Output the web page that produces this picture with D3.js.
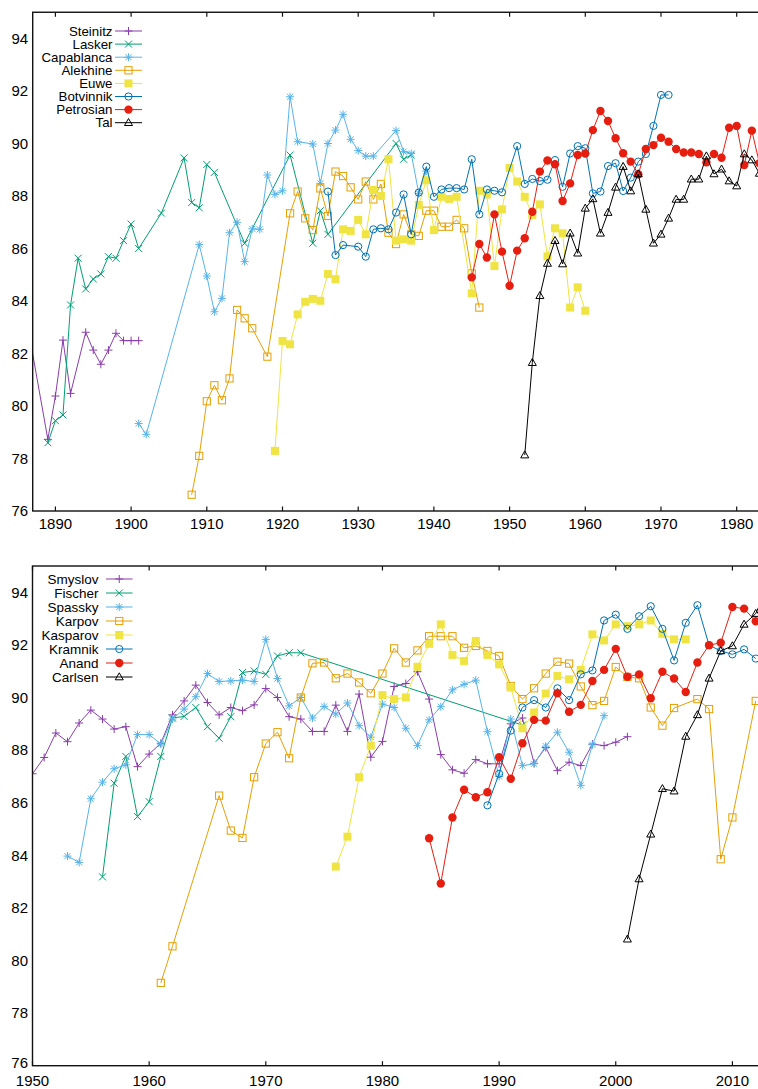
<!DOCTYPE html>
<html><head><meta charset="utf-8">
<script src="https://cdn.jsdelivr.net/npm/d3@7"></script>
<style>
body{margin:0;background:#fff}
svg{display:block}
text{font-family:"Liberation Sans",Arial,Helvetica,sans-serif;fill:#000}
</style>
</head><body>
<svg id="c" width="758" height="1089"></svg>
<script>
// ---------- DATA (year, performance) ----------
const steinitz = [[1886,83.6],[1889,78.73],[1890,80.38],[1891,82.51],[1892,80.48],[1894,82.81],[1895,82.13],[1896,81.59],[1897,82.13],[1898,82.77],[1899,82.49],[1900,82.49],[1901,82.49]];
const lasker = [[1889,78.6],[1890,79.44],[1891,79.66],[1892,83.85],[1893,85.63],[1894,84.46],[1895,84.84],[1896,85.03],[1897,85.69],[1898,85.63],[1899,86.3],[1900,86.93],[1901,86.0],[1904,87.35],[1907,89.45],[1908,87.75],[1909,87.55],[1910,89.2],[1911,88.9],[1915,86.2],[1921,89.56],[1924,86.2],[1925,87.44],[1926,86.54],[1935,90.0],[1936,89.4],[1937,89.56]];
const capablanca = [[1901,79.33],[1902,78.92],[1909,86.15],[1910,84.95],[1911,83.59],[1912,84.1],[1913,86.6],[1914,87.0],[1915,85.5],[1916,86.75],[1917,86.73],[1918,88.8],[1919,88.06],[1920,88.2],[1921,91.78],[1922,90.07],[1924,89.98],[1925,88.48],[1926,90.0],[1927,90.51],[1928,91.11],[1929,90.16],[1930,89.73],[1931,89.52],[1932,89.52],[1935,90.49],[1936,89.69],[1937,89.62],[1938,88.1],[1939,88.95]];
const alekhine = [[1908,76.62],[1909,78.1],[1910,80.18],[1911,80.79],[1912,80.22],[1913,81.05],[1914,83.66],[1915,83.34],[1916,82.96],[1918,81.88],[1921,87.34],[1922,88.17],[1923,87.15],[1924,86.7],[1925,88.29],[1926,87.24],[1927,88.93],[1928,88.76],[1929,88.33],[1930,87.87],[1931,88.55],[1932,87.87],[1933,88.46],[1934,86.6],[1935,86.17],[1936,87.3],[1937,86.54],[1938,86.48],[1939,87.44],[1940,87.44],[1941,86.83],[1942,86.83],[1943,87.09],[1944,86.77],[1945,85.05],[1946,83.75]];
const euwe = [[1919,78.29],[1920,82.48],[1921,82.35],[1922,83.49],[1923,83.97],[1924,84.08],[1925,84.01],[1926,85.03],[1927,84.83],[1928,86.73],[1929,86.67],[1930,87.09],[1931,86.54],[1932,88.23],[1933,88.0],[1934,89.4],[1935,86.3],[1936,86.35],[1937,86.3],[1938,87.66],[1939,88.6],[1940,86.7],[1941,87.97],[1942,87.89],[1943,87.97],[1945,84.29],[1946,88.2],[1947,88.06],[1948,85.33],[1949,87.49],[1950,89.07],[1951,88.55],[1952,87.97],[1953,87.28],[1954,87.68],[1955,85.7],[1956,86.77],[1957,86.58],[1958,83.75],[1959,84.52],[1960,83.63]];
const botvinnik = [[1926,88.17],[1927,85.75],[1928,86.13],[1930,86.07],[1931,85.69],[1932,86.73],[1933,86.77],[1934,86.73],[1935,87.37],[1936,88.06],[1937,86.54],[1938,88.13],[1939,89.12],[1940,87.97],[1941,88.25],[1942,88.3],[1943,88.3],[1944,88.25],[1945,89.4],[1946,87.3],[1947,88.25],[1948,88.2],[1949,88.14],[1951,89.9],[1952,88.46],[1953,88.65],[1954,88.57],[1955,88.62],[1956,89.37],[1957,88.35],[1958,89.62],[1959,89.9],[1960,89.82],[1961,88.1],[1962,88.17],[1963,89.14],[1964,89.25],[1965,88.19],[1966,88.7],[1967,89.31],[1968,89.6],[1969,90.67],[1970,91.85],[1971,91.85]];
const petrosian = [[1945,84.9],[1946,86.17],[1947,85.66],[1948,87.3],[1949,85.88],[1950,84.58],[1951,85.92],[1952,86.39],[1953,87.4],[1954,88.93],[1955,89.35],[1956,89.21],[1957,87.81],[1958,88.48],[1959,89.56],[1960,89.62],[1961,90.51],[1962,91.24],[1963,90.86],[1964,90.2],[1965,89.63],[1966,89.31],[1967,88.83],[1968,89.79],[1969,89.94],[1970,90.22],[1971,90.07],[1972,89.79],[1973,89.66],[1974,89.66],[1975,89.6],[1976,89.28],[1977,89.6],[1978,89.46],[1979,90.6],[1980,90.67],[1981,89.18],[1982,90.49],[1983,89.25]];
const tal = [[1952,78.13],[1953,81.65],[1954,84.2],[1955,85.43],[1956,86.3],[1957,85.41],[1958,86.58],[1959,85.82],[1960,87.53],[1961,87.89],[1962,86.58],[1963,87.37],[1964,88.33],[1965,89.12],[1966,88.19],[1967,88.84],[1968,87.49],[1969,86.2],[1970,86.54],[1971,87.15],[1972,87.87],[1973,87.87],[1974,88.64],[1975,88.64],[1976,89.52],[1977,88.84],[1978,89.02],[1979,88.57],[1980,88.38],[1981,89.6],[1982,89.37],[1983,88.86]];

const smyslov = [[1950,87.1],[1951,87.72],[1952,88.65],[1953,88.32],[1954,89.03],[1955,89.52],[1956,89.18],[1957,88.8],[1958,88.89],[1959,87.37],[1960,87.85],[1961,88.26],[1962,89.34],[1963,89.87],[1964,90.47],[1965,89.81],[1966,89.34],[1967,89.62],[1968,89.5],[1969,89.72],[1970,90.34],[1971,90.0],[1972,89.27],[1973,89.18],[1974,88.71],[1975,88.71],[1976,89.71],[1977,88.71],[1978,90.13],[1979,87.73],[1980,88.33],[1981,90.42],[1982,90.53],[1983,90.98],[1984,89.94],[1985,87.83],[1986,87.25],[1987,87.12],[1988,87.64],[1989,87.48],[1990,87.48],[1991,89.0],[1992,89.22],[1993,87.5],[1994,88.1],[1995,87.22],[1996,87.54],[1997,87.41],[1998,88.23],[1999,88.17],[2000,88.3],[2001,88.51]];
const fischer = [[1956,83.18],[1957,86.74],[1958,87.76],[1959,85.47],[1960,86.04],[1961,87.76],[1962,89.22],[1963,89.28],[1964,89.62],[1965,88.89],[1966,88.45],[1967,89.27],[1968,90.95],[1969,91.01],[1970,90.88],[1971,91.58],[1972,91.7],[1973,91.7],[1992,88.95]];
const spassky = [[1953,83.97],[1954,83.73],[1955,86.15],[1956,86.78],[1957,87.29],[1958,87.44],[1959,88.59],[1960,88.59],[1961,88.23],[1962,89.18],[1963,89.56],[1964,90.03],[1965,90.91],[1966,90.61],[1967,90.63],[1968,90.66],[1969,90.61],[1970,92.21],[1971,90.72],[1972,89.68],[1973,90.0],[1974,89.22],[1975,89.66],[1976,89.37],[1977,89.79],[1978,88.93],[1979,88.49],[1980,89.75],[1981,89.62],[1982,88.83],[1983,88.17],[1984,89.15],[1985,89.65],[1986,90.29],[1987,90.5],[1988,90.66],[1989,88.7],[1990,87.0],[1991,89.18],[1992,87.41],[1993,87.48],[1994,88.15],[1995,88.68],[1996,87.92],[1997,86.66],[1998,88.2],[1999,89.31]];
const karpov = [[1961,79.15],[1962,80.54],[1966,86.27],[1967,84.94],[1968,84.66],[1969,86.97],[1970,88.25],[1971,88.68],[1972,87.69],[1973,90.0],[1974,91.3],[1975,91.33],[1976,90.73],[1977,90.91],[1978,90.57],[1979,90.16],[1980,90.91],[1981,91.87],[1982,91.33],[1983,91.79],[1984,92.33],[1985,92.33],[1986,92.33],[1987,91.89],[1988,91.96],[1989,91.77],[1990,91.58],[1991,90.44],[1992,89.94],[1993,90.35],[1994,90.91],[1995,91.36],[1996,91.29],[1997,90.42],[1998,89.71],[1999,89.87],[2000,91.16],[2001,90.78],[2002,90.73],[2003,89.62],[2004,88.93],[2005,89.6],[2007,89.94],[2008,89.56],[2009,83.85],[2010,85.44],[2012,89.87]];
const kasparov = [[1976,83.57],[1977,84.71],[1978,86.97],[1979,88.17],[1980,90.09],[1981,89.94],[1982,90.0],[1983,91.17],[1984,92.04],[1985,92.78],[1986,91.62],[1987,91.39],[1988,92.15],[1989,91.62],[1990,91.26],[1991,90.38],[1992,88.83],[1993,89.43],[1994,90.15],[1995,90.82],[1996,90.69],[1997,91.05],[1998,92.4],[1999,92.17],[2000,92.78],[2001,92.71],[2002,92.78],[2003,92.93],[2004,92.42],[2005,92.21],[2006,92.21]];
const kramnik = [[1989,85.9],[1990,87.1],[1991,88.74],[1992,89.62],[1993,89.9],[1994,89.62],[1995,90.35],[1996,89.9],[1997,90.88],[1998,91.03],[1999,92.93],[2000,93.15],[2001,92.61],[2002,93.09],[2003,93.47],[2004,92.61],[2005,91.41],[2006,92.84],[2007,93.51],[2008,91.99],[2009,91.77],[2010,91.64],[2011,91.83],[2012,91.48]];
const anand = [[1984,84.65],[1985,82.93],[1986,85.44],[1987,86.49],[1988,86.21],[1989,86.4],[1990,87.73],[1991,86.91],[1992,88.26],[1993,89.15],[1994,89.12],[1995,90.16],[1996,89.46],[1997,89.72],[1998,90.63],[1999,91.05],[2000,91.85],[2001,90.79],[2002,90.88],[2003,89.97],[2004,90.98],[2005,90.72],[2006,90.21],[2007,91.33],[2008,91.99],[2009,92.08],[2010,93.44],[2011,93.38],[2012,92.9]];
const carlsen = [[2001,80.81],[2002,83.1],[2003,84.8],[2004,86.53],[2005,86.44],[2006,88.52],[2007,89.34],[2008,90.73],[2009,91.77],[2010,91.96],[2011,92.78],[2012,93.19],[2013,94.2]];

const topNames = ["Steinitz","Lasker","Capablanca","Alekhine","Euwe","Botvinnik","Petrosian","Tal"];
const topSeries = [steinitz,lasker,capablanca,alekhine,euwe,botvinnik,petrosian,tal];
const bottomNames = ["Smyslov","Fischer","Spassky","Karpov","Kasparov","Kramnik","Anand","Carlsen"];
const bottomSeries = [smyslov,fischer,spassky,karpov,kasparov,kramnik,anand,carlsen];
const topXTicks = [1890,1900,1910,1920,1930,1940,1950,1960,1970,1980];
const bottomXTicks = [1950,1960,1970,1980,1990,2000,2010];
const yTicks = [76,78,80,82,84,86,88,90,92,94];

// ---------- STYLE ----------
const colors = ["#8a3dab","#009e73","#56b4e9","#e69f00","#f0e442","#0072b2","#e51e10","#000000"];
const markerTypes = ["plus","cross","star","square","fsquare","circle","fcircle","triangle"];

const svg = d3.select("#c");

function drawMarker(g, type, color, x, y) {
  const sw = 1;
  if (type === "plus") {
    g.append("path").attr("d",`M${x-4},${y}H${x+4}M${x},${y-4}V${y+4}`).attr("stroke",color).attr("stroke-width",sw).attr("fill","none");
  } else if (type === "cross") {
    g.append("path").attr("d",`M${x-3.5},${y-3.5}L${x+3.5},${y+3.5}M${x-3.5},${y+3.5}L${x+3.5},${y-3.5}`).attr("stroke",color).attr("stroke-width",sw).attr("fill","none");
  } else if (type === "star") {
    g.append("path").attr("d",`M${x-4},${y}H${x+4}M${x},${y-4}V${y+4}M${x-3},${y-3}L${x+3},${y+3}M${x-3},${y+3}L${x+3},${y-3}`).attr("stroke",color).attr("stroke-width",sw).attr("fill","none");
  } else if (type === "square") {
    g.append("rect").attr("x",x-3.6).attr("y",y-3.6).attr("width",7.2).attr("height",7.2).attr("stroke",color).attr("stroke-width",sw).attr("fill","none");
  } else if (type === "fsquare") {
    g.append("rect").attr("x",x-4).attr("y",y-4).attr("width",8).attr("height",8).attr("fill",color);
  } else if (type === "circle") {
    g.append("circle").attr("cx",x).attr("cy",y).attr("r",3.6).attr("stroke",color).attr("stroke-width",sw).attr("fill","none");
  } else if (type === "fcircle") {
    g.append("circle").attr("cx",x).attr("cy",y).attr("r",4.2).attr("fill",color);
  } else if (type === "triangle") {
    g.append("path").attr("d",`M${x},${y-4.2}L${x+4},${y+2.8}L${x-4},${y+2.8}Z`).attr("stroke",color).attr("stroke-width",sw).attr("fill","none");
  }
}

function panel(cfg) {
  const x = d3.scaleLinear().domain(cfg.xDomain).range(cfg.xRange);
  const y = d3.scaleLinear().domain([76,95]).range(cfg.yRange);
  const [x0,x1] = cfg.xRange, [y0,y1] = cfg.yRange;
  const g = svg.append("g");
  const clipId = "clip" + cfg.id;
  svg.append("clipPath").attr("id",clipId).append("rect")
    .attr("x",x0).attr("y",y1-6).attr("width",x1-x0+6).attr("height",y0-y1+12);
  const plot = g.append("g").attr("clip-path",`url(#${clipId})`);
  const line = d3.line().x(d=>x(d[0])).y(d=>y(d[1]));
  const lineClip = "lclip" + cfg.id;
  svg.append("clipPath").attr("id",lineClip).append("rect")
    .attr("x",x0).attr("y",y1).attr("width",x1-x0).attr("height",y0-y1);
  cfg.series.forEach((s,i)=>{
    plot.append("path").datum(s).attr("d",line).attr("fill","none")
      .attr("stroke",colors[i]).attr("stroke-width",1).attr("clip-path",`url(#${lineClip})`);
    const mg = plot.append("g");
    s.forEach(d=>{
      if (d[0] >= cfg.xDomain[0]) drawMarker(mg, markerTypes[i], colors[i], x(d[0]), y(d[1]));
    });
  });
  // frame
  g.append("rect").attr("x",x0).attr("y",y1).attr("width",x1-x0).attr("height",y0-y1)
    .attr("fill","none").attr("stroke","#111").attr("stroke-width",1.4);
  // x ticks
  cfg.xTicks.forEach(t=>{
    const xx = x(t);
    g.append("line").attr("x1",xx).attr("x2",xx).attr("y1",y0).attr("y2",y0-4.5).attr("stroke","#111").attr("stroke-width",1.2);
    g.append("line").attr("x1",xx).attr("x2",xx).attr("y1",y1).attr("y2",y1+4.5).attr("stroke","#111").attr("stroke-width",1.2);
    g.append("text").attr("x",xx).attr("y",y0+cfg.xLabelDy).attr("text-anchor","middle").attr("font-size",15).text(t);
  });
  yTicks.forEach(t=>{
    const dy = (t === 76) ? cfg.y76Dy : 5.3;
    g.append("text").attr("x",x0-4.5).attr("y",y(t)+dy).attr("text-anchor","end").attr("font-size",15).text(t);
  });
  // legend
  const L = cfg.legend;
  cfg.names.forEach((n,i)=>{
    const yy = L.y + i*L.dy;
    g.append("text").attr("x",L.tx).attr("y",yy+4.6).attr("text-anchor","end").attr("font-size",L.fs).text(n);
    g.append("line").attr("x1",L.lx1).attr("x2",L.lx2).attr("y1",yy).attr("y2",yy).attr("stroke",colors[i]).attr("stroke-width",1);
    drawMarker(g, markerTypes[i], colors[i], (L.lx1+L.lx2)/2, yy);
  });
}

panel({id:"top", xDomain:[1887,1983], xRange:[32.7,759.4], yRange:[511,12.25],
  series: topSeries, names: topNames, xTicks: topXTicks, xLabelDy: 18, y76Dy: 5.3,
  legend:{tx:112.5, lx1:115, lx2:142, y:31, dy:13.1, fs:13.3}});
panel({id:"bot", xDomain:[1950,2013], xRange:[32.5,767.4], yRange:[1065.7,566],
  series: bottomSeries, names: bottomNames, xTicks: bottomXTicks, xLabelDy: 19.8, y76Dy: 2.7,
  legend:{tx:98.5, lx1:106, lx2:132.5, y:579, dy:14, fs:13.5}});
</script>
</body></html>
